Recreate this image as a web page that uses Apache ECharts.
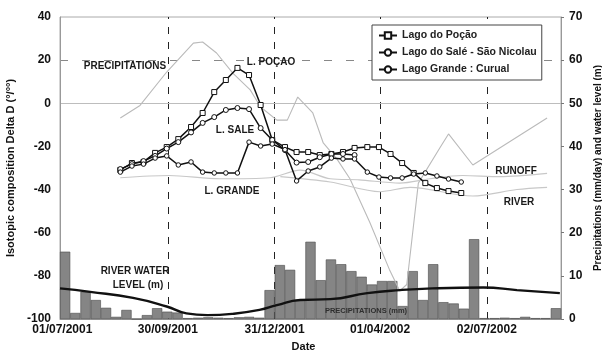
<!DOCTYPE html>
<html>
<head>
<meta charset="utf-8">
<script src="https://cdn.jsdelivr.net/npm/echarts@6/dist/echarts.min.js"></script>
<style>html,body{margin:0;padding:0;background:#fff;}#c{width:602px;height:355px;}</style>
</head>
<body>
<div id="c"></div>
<script>
// ---------- DATA ----------
const lakeDates = ['2001-08-20','2001-08-30','2001-09-09','2001-09-19','2001-09-29','2001-10-09','2001-10-20','2001-10-30','2001-11-09','2001-11-19','2001-11-29','2001-12-09','2001-12-19','2001-12-29','2002-01-09','2002-01-19','2002-01-29','2002-02-08','2002-02-18','2002-02-28','2002-03-10','2002-03-21','2002-03-31','2002-04-10','2002-04-20','2002-04-30','2002-05-10','2002-05-20','2002-05-30','2002-06-10'];
const pocaoValues = [-30.9,-27.7,-27.2,-23,-20.3,-16.6,-11,-4.5,5.2,10.8,16.4,13.1,-0.8,-17,-20.3,-22.6,-22.6,-24,-23.5,-22.6,-20.7,-20.3,-20.3,-23.5,-27.7,-32.3,-37,-39.3,-40.7,-41.6];
const saleValues = [-30.5,-28.2,-26.8,-24.4,-21,-18,-13.5,-9.1,-6.4,-3.1,-2.2,-2.7,-11.5,-17,-21.7,-27.5,-27.2,-25,-23.5,-23.5,-24];
const grandeValues = [-31.9,-29.1,-28.2,-25.4,-24.4,-28.6,-27.2,-31.9,-32.3,-32.3,-32.3,-18,-19.8,-18.9,-21.5,-36,-31.4,-29.5,-25.4,-25.8,-25.8,-31.9,-34.2,-34.6,-34.6,-32.8,-32.3,-33.7,-35.1,-36.5];

const precipIsoDates = ['2001-08-20','2001-09-06','2001-09-29','2001-10-22','2001-10-30','2001-11-11','2001-11-25','2001-12-10','2001-12-19','2002-01-02','2002-01-11','2002-01-20','2002-02-02','2002-02-11','2002-02-23','2002-03-06','2002-03-23','2002-04-09','2002-04-18','2002-04-24','2002-05-04','2002-05-23','2002-05-30','2002-06-20','2002-08-23'];
const precipIsoValues = [-6.8,-1,14.5,27.9,28.4,23.3,14,6.2,-1.7,-7.8,-7.8,2.9,-4.5,-18.4,-26,-35,-55,-77,-87,-84,-37,-20.3,-14.2,-28.6,-6.8];

const runoffDates = ['2001-08-20','2001-10-01','2001-11-14','2001-12-27','2002-01-22','2002-02-17','2002-03-14','2002-04-18','2002-05-14','2002-06-11','2002-07-13','2002-08-23'];
const runoffValues = [-34.5,-33.5,-35,-34.5,-31,-35,-35.5,-37,-35,-33.5,-34,-32.5];

const riverDates = ['2002-01-05','2002-02-17','2002-04-01','2002-04-27','2002-06-20','2002-07-28','2002-08-23'];
const riverValues = [-34,-36.5,-41,-39,-43,-40,-39];

const precipBars = [15.6,1.4,6.3,4.4,2.6,0.5,2.1,0,0.9,2.5,1.7,1.5,0.2,0.3,0.4,0.3,0.2,0.4,0.5,0.3,6.7,12.5,11.4,4.5,17.9,9.0,13.8,12.7,11.1,9.8,8.0,8.8,8.8,3.0,11.1,4.4,12.7,3.9,3.6,2.4,18.5,0.2,0.2,0.3,0.2,0.5,0.2,0.2,2.5];
const barPeriods = precipBars.map((_, i) => 'P' + (i + 1));

const levelDates = ['2001-06-29','2001-07-25','2001-08-31','2001-09-29','2001-10-16','2001-11-03','2001-11-25','2001-12-18','2002-01-02','2002-01-22','2002-02-17','2002-03-21','2002-04-18','2002-05-16','2002-06-29','2002-07-28','2002-09-03'];
const levelValues = [7.1,6.3,4.9,2.9,1.3,0.9,1.2,2.1,3.2,4.4,4.6,6.0,6.7,7.1,7.3,6.7,6.0];

const xTickDates = ['2001-07-01','2001-09-30','2001-12-31','2002-04-01','2002-07-02'];
const dashedDates = ['2001-09-30','2001-12-31','2002-04-01','2002-07-02'];
const seriesNames = ['Lago do Poção','Lago do Salé - São Nicolau','Lago Grande : Curual'];

// ---------- CHART ----------
const FONT = '"Liberation Sans", Arial, Helvetica, sans-serif';
function ts(s){ const p = s.split('-').map(Number); return Date.UTC(p[0], p[1]-1, p[2]); }
function pad(n){ return (n < 10 ? '0' : '') + n; }
function pairs(d, v){ return v.map((y, i) => [ts(d[i]), y]); }

const chart = echarts.init(document.getElementById('c'), null, {renderer: 'canvas'});
const labelStyle = {fontFamily: FONT, fontWeight: 'bold', fontSize: 12, color: '#111'};
const lakeLine = {color: '#111', width: 1.5};

function txt(t, x, y, size, color){
  return {type: 'text', z: 50, style: {text: t, x: x, y: y, textAlign: 'center', textVerticalAlign: 'middle',
    fontFamily: FONT, fontWeight: 'bold', fontSize: size || 10, fill: color || '#1a1a1a'}};
}

chart.setOption({
  animation: false,
  backgroundColor: '#fff',
  grid: {left: 60, right: 41, top: 17, bottom: 36, show: true, borderColor: '#aaa', borderWidth: 1,
    containLabel: false, outerBoundsMode: 'none'},
  legend: {
    orient: 'vertical', left: 372, top: 25, padding: [5, 5, 5, 6], itemGap: 6,
    itemWidth: 18, itemHeight: 8, backgroundColor: '#fff', borderColor: '#444', borderWidth: 1,
    textStyle: {fontFamily: FONT, fontSize: 10.5, fontWeight: 'bold', color: '#222'},
    data: seriesNames, z: 20
  },
  xAxis: [{
    type: 'value', min: ts('2001-06-29'), max: ts('2002-09-04'),
    axisLine: {show: true, onZero: false, lineStyle: {color: '#999'}},
    axisTick: {show: false}, splitLine: {show: false},
    axisLabel: Object.assign({}, labelStyle, {
      margin: 5, customValues: xTickDates.map(ts),
      formatter: function(v){ const d = new Date(v); return pad(d.getUTCDate()) + '/' + pad(d.getUTCMonth()+1) + '/' + d.getUTCFullYear(); }
    }),
    name: 'Date', nameLocation: 'middle', nameGap: 22,
    nameTextStyle: {fontFamily: FONT, fontWeight: 'bold', fontSize: 11, color: '#111', padding: [0, 14, 0, 0]}
  }, {
    type: 'category', data: barPeriods, show: false, boundaryGap: true
  }],
  yAxis: [{
    type: 'value', min: -100, max: 40, interval: 20,
    axisLine: {show: true, lineStyle: {color: '#999'}},
    axisTick: {show: false}, splitLine: {show: false},
    axisLabel: Object.assign({}, labelStyle, {margin: 9}),
    name: 'Isotopic composition Delta D (°/°°)', nameLocation: 'middle', nameGap: 32, nameRotate: 90,
    nameTextStyle: {fontFamily: FONT, fontWeight: 'bold', fontSize: 11, color: '#111'}
  }, {
    type: 'value', min: 0, max: 70, interval: 10, position: 'right',
    axisLine: {show: true, lineStyle: {color: '#999'}},
    axisTick: {show: true, length: 3, lineStyle: {color: '#777'}}, splitLine: {show: false},
    axisLabel: Object.assign({}, labelStyle, {margin: 8}),
    name: 'Precipitations (mm/day) and water level (m)', nameLocation: 'middle', nameGap: 30, nameRotate: 90,
    nameTextStyle: {fontFamily: FONT, fontWeight: 'bold', fontSize: 10, color: '#111'}
  }],
  series: [
    {
      name: 'precipitation', type: 'bar', xAxisIndex: 1, yAxisIndex: 1, z: 1,
      barCategoryGap: '0%', data: precipBars,
      itemStyle: {color: '#858585', borderColor: '#4a4a4a', borderWidth: 0.6}
    },
    {
      name: 'river level', type: 'line', xAxisIndex: 0, yAxisIndex: 1, z: 3,
      smooth: true, symbol: 'none', data: pairs(levelDates, levelValues),
      lineStyle: {color: '#111', width: 2.4}
    },
    {
      name: 'precip iso', type: 'line', z: 2, symbol: 'none', data: pairs(precipIsoDates, precipIsoValues),
      lineStyle: {color: '#bababa', width: 1.1},
      markLine: {
        silent: true, symbol: 'none', label: {show: false}, z: 0,
        data: dashedDates.map(d => ({xAxis: ts(d), lineStyle: {color: '#222', width: 1, type: [7, 8]}}))
          .concat([
            {yAxis: 0, lineStyle: {color: '#bdbdbd', width: 1.2, type: 'solid'}},
            {yAxis: 20, lineStyle: {color: '#888', width: 1, type: [8, 14]}}
          ])
      }
    },
    {
      name: 'runoff', type: 'line', z: 2, symbol: 'none', smooth: 0.3, data: pairs(runoffDates, runoffValues),
      lineStyle: {color: '#c8c8c8', width: 1.1}
    },
    {
      name: 'river', type: 'line', z: 2, symbol: 'none', smooth: 0.3, data: pairs(riverDates, riverValues),
      lineStyle: {color: '#c8c8c8', width: 1.1}
    },
    {
      name: seriesNames[0], type: 'line', z: 5, data: pairs(lakeDates, pocaoValues),
      symbol: 'rect', symbolSize: 5, lineStyle: lakeLine,
      itemStyle: {color: '#fff', borderColor: '#111', borderWidth: 1}
    },
    {
      name: seriesNames[1], type: 'line', z: 5, data: pairs(lakeDates, saleValues),
      symbol: 'circle', symbolSize: 5, lineStyle: lakeLine,
      itemStyle: {color: '#fff', borderColor: '#111', borderWidth: 1}
    },
    {
      name: seriesNames[2], type: 'line', z: 5, data: pairs(lakeDates, grandeValues),
      symbol: 'circle', symbolSize: 4.5, lineStyle: lakeLine,
      itemStyle: {color: '#fff', borderColor: '#111', borderWidth: 1}
    }
  ],
  graphic: [
    txt('PRECIPITATIONS', 125, 66),
    txt('L. POÇAO', 271, 62),
    txt('L. SALE', 235, 130),
    txt('L. GRANDE', 232, 191),
    txt('RUNOFF', 516, 171),
    txt('RIVER', 519, 202),
    txt('RIVER WATER', 135, 271),
    txt('LEVEL (m)', 138, 285),
    txt('PRECIPITATIONS (mm)', 366, 311, 7.5, '#2e2e2e')
  ]
});
</script>
</body>
</html>
